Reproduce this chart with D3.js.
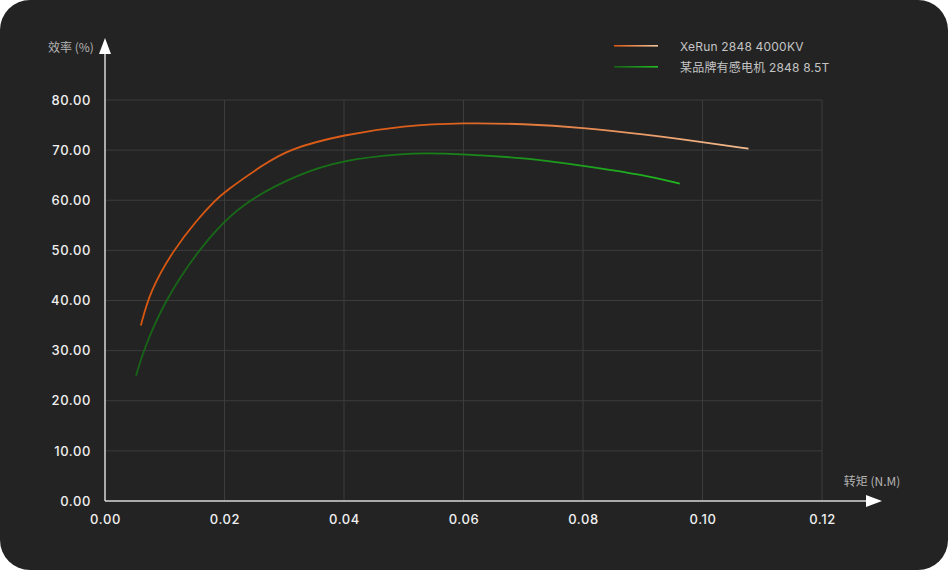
<!DOCTYPE html>
<html>
<head>
<meta charset="utf-8">
<script src="https://cdn.jsdelivr.net/npm/d3@7"></script>
<style>
    body { margin: 0; background: #ffffff; }
    svg { display: block; }
</style>
</head>
<body>
<svg id="chart"></svg>
<script>
// series: torque (N.M) vs efficiency (%)
let seriesNames = ["XeRun 2848 4000KV", "某品牌有感电机 2848 8.5T"];
let xerunTorque = [0.006, 0.0075, 0.0114, 0.0154, 0.0184, 0.02, 0.0265, 0.0307, 0.04, 0.05, 0.06, 0.07, 0.08, 0.09, 0.1, 0.1077];
let xerunEff = [35.0, 41.8, 50.0, 56.1, 59.9, 61.7, 67.1, 70.2, 73.1, 74.9, 75.45, 75.25, 74.5, 73.2, 71.6, 70.3];
let otherTorque = [0.0052, 0.0064, 0.01, 0.0156, 0.02, 0.024, 0.0321, 0.04, 0.05, 0.0533, 0.06, 0.07, 0.08, 0.09, 0.0962];
let otherEff = [25.0, 30.0, 40.0, 50.0, 55.9, 60.0, 65.1, 68.1, 69.25, 69.4, 69.2, 68.5, 66.9, 65.1, 63.3];
let xTicks = [0, 0.02, 0.04, 0.06, 0.08, 0.1, 0.12];
let yTicks = [0, 10, 20, 30, 40, 50, 60, 70, 80];

let W = 948, H = 570;
let margin = {top: 100, right: 126, bottom: 69, left: 105};
let width = W - margin.left - margin.right;
let height = H - margin.top - margin.bottom;

let svg = d3.select("#chart").attr("width", W).attr("height", H);

let defs = svg.append("defs");
function addGradient(id, stops) {
    let g = defs.append("linearGradient").attr("id", id)
        .attr("x1", "0%").attr("x2", "100%").attr("y1", "0%").attr("y2", "0%");
    stops.forEach(s => g.append("stop").attr("offset", s[0]).attr("stop-color", s[1]));
}
addGradient("gOrange", [["0%", "#d9560f"], ["50%", "#dc5f1c"], ["100%", "#f2bc90"]]);
addGradient("gGreen", [["0%", "#166416"], ["45%", "#177417"], ["100%", "#1fb81f"]]);
addGradient("lgOrange", [["0%", "#d9560f"], ["100%", "#f2c8a0"]]);
addGradient("lgGreen", [["0%", "#166416"], ["100%", "#22c022"]]);

// card
svg.append("rect").attr("x", 0).attr("y", 0).attr("width", W).attr("height", H)
    .attr("rx", 30).attr("fill", "#232323");

let g = svg.append("g").attr("transform", "translate(" + margin.left + "," + margin.top + ")");

let x = d3.scaleLinear().domain([0, 0.12]).range([0, width]);
let y = d3.scaleLinear().domain([0, 80]).range([height, 0]);

// grid
g.append("g").selectAll("line").data(yTicks.slice(1)).join("line")
    .attr("x1", 0).attr("x2", width)
    .attr("y1", d => y(d)).attr("y2", d => y(d))
    .attr("stroke", "#3c3c3c").attr("stroke-width", 1);
g.append("g").selectAll("line").data(xTicks.slice(1)).join("line")
    .attr("x1", d => x(d)).attr("x2", d => x(d))
    .attr("y1", 0).attr("y2", height)
    .attr("stroke", "#3c3c3c").attr("stroke-width", 1);

// axes with tick labels
let xAxis = g.append("g").attr("transform", "translate(0," + height + ")")
    .call(d3.axisBottom(x).tickValues(xTicks).tickFormat(d3.format(".2f")).tickSize(0).tickPadding(14));
let yAxis = g.append("g")
    .call(d3.axisLeft(y).tickValues(yTicks).tickFormat(d3.format(".2f")).tickSize(0).tickPadding(14));
[xAxis, yAxis].forEach(a => {
    a.select(".domain").remove();
    a.selectAll("text").attr("fill", "#f0f0f0").attr("font-size", 13)
        .attr("letter-spacing", 0.6)
        .attr("font-family", "Inter, 'Noto Sans', sans-serif").attr("font-weight", 500);
});

// axis lines with arrows
g.append("line").attr("x1", 0).attr("x2", 0).attr("y1", height).attr("y2", -52)
    .attr("stroke", "#d8d8d8").attr("stroke-width", 1.5);
g.append("path").attr("d", "M0,-62 L-6,-46 L6,-46 Z").attr("fill", "#ffffff");
g.append("line").attr("x1", 0).attr("x2", width + 48).attr("y1", height).attr("y2", height)
    .attr("stroke", "#d8d8d8").attr("stroke-width", 1.5);
g.append("path").attr("d", "M" + (width + 60) + "," + height + " l-16,-6 l0,12 Z").attr("fill", "#ffffff");

// axis titles
svg.append("text").attr("x", 71).attr("y", 52).attr("text-anchor", "middle")
    .attr("fill", "#b4b4b4").attr("font-size", 12)
    .attr("font-family", "'Noto Sans CJK SC', sans-serif").text("效率 (%)");
svg.append("text").attr("x", 872).attr("y", 486).attr("text-anchor", "middle")
    .attr("fill", "#b4b4b4").attr("font-size", 12)
    .attr("font-family", "'Noto Sans CJK SC', sans-serif").text("转矩 (N.M)");

// lines
let line = d3.line().x(d => x(d[0])).y(d => y(d[1])).curve(d3.curveBasis);
let orangePts = xerunTorque.map((t, i) => [t, xerunEff[i]]);
let greenPts = otherTorque.map((t, i) => [t, otherEff[i]]);
g.append("path").datum(orangePts).attr("d", line)
    .attr("fill", "none").attr("stroke", "url(#gOrange)").attr("stroke-width", 1.8);
g.append("path").datum(greenPts).attr("d", line)
    .attr("fill", "none").attr("stroke", "url(#gGreen)").attr("stroke-width", 1.8);

// legend
let legend = svg.append("g").attr("transform", "translate(614,46)");
let legendColors = ["url(#lgOrange)", "url(#lgGreen)"];
seriesNames.forEach((name, i) => {
    let row = legend.append("g").attr("transform", "translate(0," + (i * 21) + ")");
    row.append("rect").attr("x", 0).attr("y", -1).attr("width", 44).attr("height", 1.6)
        .attr("fill", legendColors[i]);
    row.append("text").attr("x", 66).attr("y", 5).attr("fill", "#c4c4c4")
        .attr("font-size", 12).attr("letter-spacing", 0.2)
        .attr("font-family", "Inter, 'Noto Sans CJK SC', sans-serif")
        .text(name);
});
</script>
</body>
</html>
